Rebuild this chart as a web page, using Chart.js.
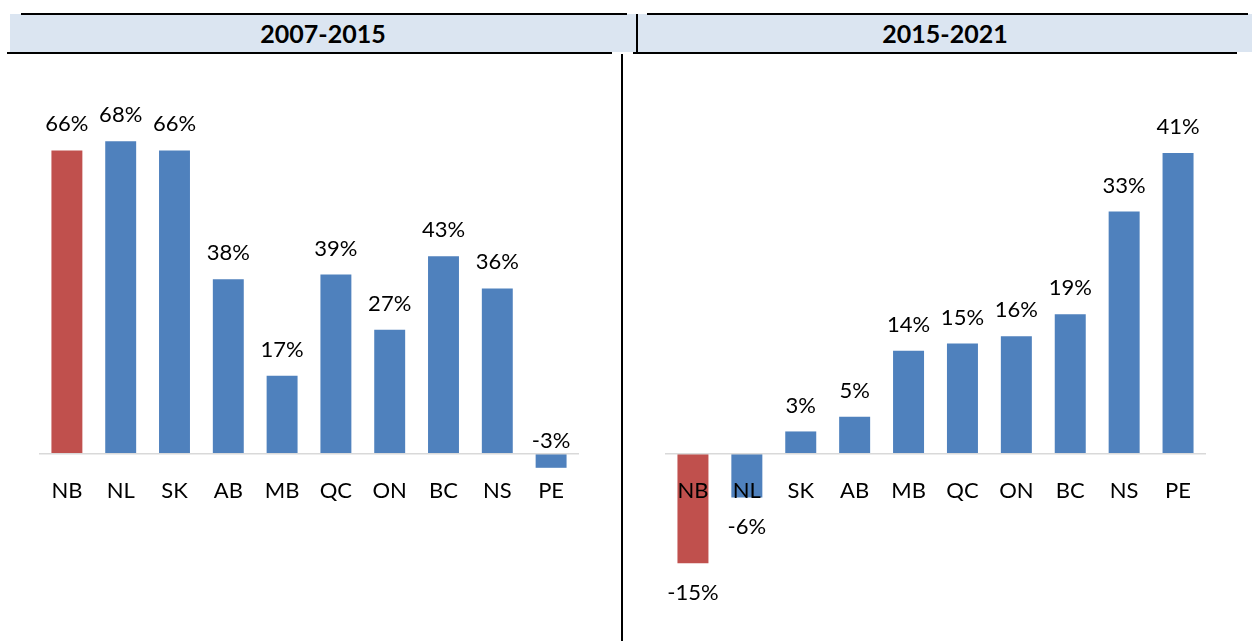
<!DOCTYPE html>
<html>
<head>
<meta charset="utf-8">
<script src="https://cdn.jsdelivr.net/npm/chart.js@4/dist/chart.umd.min.js"></script>
<style>
  html, body { margin: 0; padding: 0; background: #fff; }
  body { width: 1252px; height: 641px; position: relative; overflow: hidden; font-family: Lato, 'Open Sans', sans-serif; }
  .abs { position: absolute; }
  .fill { background: #DBE5F1; }
  .line { background: #000; }
  .title { font-weight: bold; font-size: 25px; color: #000; text-align: center; line-height: 38px; }
</style>
</head>
<body>
  <!-- header bars -->
  <div class="abs fill" style="left:10px; top:14px; width:626px; height:38px;"></div>
  <div class="abs fill" style="left:638px; top:14px; width:614px; height:38px;"></div>
  <div class="abs title" style="left:10px; top:14px; width:626px;">2007-2015</div>
  <div class="abs title" style="left:638px; top:14px; width:614px;">2015-2021</div>
  <div class="abs line" style="left:21px; top:13px; width:606px; height:2px;"></div>
  <div class="abs line" style="left:647px; top:13px; width:601px; height:2px;"></div>
  <div class="abs line" style="left:7px; top:52px; width:605px; height:2px;"></div>
  <div class="abs line" style="left:633px; top:52px; width:604px; height:2px;"></div>
  <div class="abs line" style="left:636px; top:14px; width:2px; height:39px;"></div>
  <div class="abs line" style="left:621px; top:54px; width:2px; height:587px;"></div>

  <div class="abs" style="left:0px; top:54px; width:620px; height:587px;"><canvas id="chartLeft"></canvas></div>
  <div class="abs" style="left:624px; top:54px; width:628px; height:587px;"><canvas id="chartRight"></canvas></div>

<script>
// data
const categoriesLeft = ['NB', 'NL', 'SK', 'AB', 'MB', 'QC', 'ON', 'BC', 'NS', 'PE'];
const valuesLeft = [66, 68, 66, 38, 17, 39, 27, 43, 36, -3];
const categoriesRight = ['NB', 'NL', 'SK', 'AB', 'MB', 'QC', 'ON', 'BC', 'NS', 'PE'];
const valuesRight = [-15, -6, 3, 5, 14, 15, 16, 19, 33, 41];
const highlightCategory = 'NB';

const RED = '#C0504D';
const BLUE = '#4F81BD';

Chart.defaults.font.family = "Lato, 'Open Sans', sans-serif";
Chart.defaults.color = '#000';

// draws the % labels at the end of each bar
const valueLabels = {
    id: 'valueLabels',
    afterDatasetsDraw(chart) {
        const ctx = chart.ctx;
        const meta = chart.getDatasetMeta(0);
        const zero = chart.scales.y.getPixelForValue(0);
        const data = chart.data.datasets[0].data;
        ctx.save();
        ctx.font = "22px Lato, 'Open Sans', sans-serif";
        ctx.fillStyle = '#000';
        ctx.textAlign = 'center';
        ctx.textBaseline = 'middle';
        meta.data.forEach((bar, i) => {
            const v = data[i];
            let y;
            if (v >= 0) {
                y = bar.y - 26;
            } else if (bar.y - zero < 20) {
                // short negative bar: label sits above the axis
                y = zero - 13;
            } else {
                y = bar.y + 30;
            }
            ctx.fillText(v + '%', bar.x, y);
        });
        ctx.restore();
    }
};

function makeChart(canvasId, labels, values, yMin, yMax, padding) {
    const ctx = document.getElementById(canvasId).getContext('2d');
    return new Chart(ctx, {
        type: 'bar',
        data: {
            labels: labels,
            datasets: [{
                data: values,
                backgroundColor: labels.map(l => l === highlightCategory ? RED : BLUE),
                borderWidth: 0,
                barPercentage: 0.575,
                categoryPercentage: 1
            }]
        },
        options: {
            responsive: true,
            maintainAspectRatio: false,
            animation: false,
            layout: { padding: padding },
            plugins: {
                legend: { display: false },
                tooltip: { enabled: false }
            },
            scales: {
                x: {
                    position: { y: 0 },
                    grid: { display: false, drawTicks: false },
                    border: { display: true, color: '#D9D9D9', width: 1.5, z: 1 },
                    // z: 1 so the category labels sit on top of the negative bars
                    ticks: { color: '#000', font: { size: 22 }, padding: 24, maxRotation: 0, autoSkip: false, z: 1 },
                    afterFit: scale => { scale.height = 0; }
                },
                y: {
                    display: false,
                    min: yMin,
                    max: yMax
                }
            }
        },
        plugins: [valueLabels]
    });
}

makeChart('chartLeft', categoriesLeft, valuesLeft, -20, 80, { top: 32, bottom: 95, left: 40, right: 42 });
makeChart('chartRight', categoriesRight, valuesRight, -20, 50, { top: 33, bottom: 41, left: 42, right: 47 });
</script>
</body>
</html>
